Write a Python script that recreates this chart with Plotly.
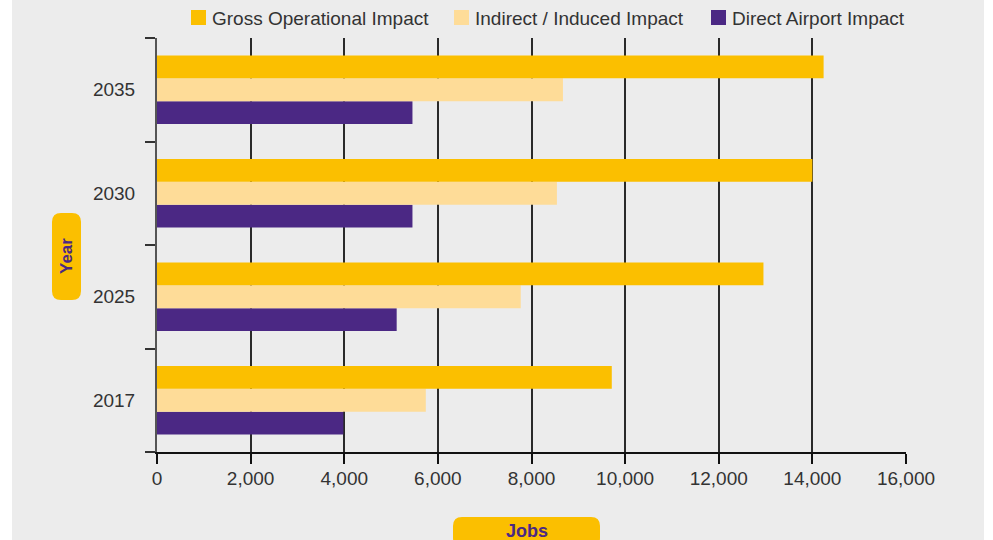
import plotly.graph_objects as go

# ---- data -------------------------------------------------------------
years = ["2017", "2025", "2030", "2035"]
gross_operational = [9715, 12955, 14000, 14240]
indirect_induced = [5742, 7770, 8543, 8672]
direct_airport = [3980, 5120, 5457, 5457]

series_names = ["Gross Operational Impact", "Indirect / Induced Impact", "Direct Airport Impact"]
x_tick_values = [0, 2000, 4000, 6000, 8000, 10000, 12000, 14000, 16000]
x_tick_labels = ["0", "2,000", "4,000", "6,000", "8,000", "10,000", "12,000", "14,000", "16,000"]

# ---- styling ----------------------------------------------------------
GOLD = "#FBBF00"
LIGHT = "#FEDC98"
PURPLE = "#4B2884"
BG = "#ECECEC"
TEXT = "#333333"
FONT = "Liberation Sans, Arial, Helvetica, sans-serif"

W, H = 993, 540
ML, MR, MT, MB = 157, 87, 38, 88
PW, PH = W - ML - MR, H - MT - MB


def px_x(p):
    return (p - ML) / PW


def px_y(p):
    return (H - MB - p) / PH


fig = go.Figure()

# grouped horizontal bars: first trace sits lowest in each group
for name, vals, col in [
    (series_names[2], direct_airport, PURPLE),
    (series_names[1], indirect_induced, LIGHT),
    (series_names[0], gross_operational, GOLD),
]:
    fig.add_trace(go.Bar(
        y=years, x=vals, name=name, orientation="h",
        marker=dict(color=col, line=dict(width=0)),
        showlegend=False,
    ))


def pill(cx, cy, w, h, r):
    x0, x1 = -w / 2, w / 2
    y0, y1 = -h / 2, h / 2
    path = (f"M{x0 + r},{y0} L{x1 - r},{y0} Q{x1},{y0} {x1},{y0 + r} "
            f"L{x1},{y1 - r} Q{x1},{y1} {x1 - r},{y1} L{x0 + r},{y1} "
            f"Q{x0},{y1} {x0},{y1 - r} L{x0},{y0 + r} Q{x0},{y0} {x0 + r},{y0} Z")
    return dict(type="path", xref="paper", yref="paper",
                xsizemode="pixel", ysizemode="pixel",
                xanchor=px_x(cx), yanchor=px_y(cy), path=path,
                fillcolor=GOLD, line=dict(width=0), layer="above")


shapes = [
    # grey panel behind everything
    dict(type="rect", xref="paper", yref="paper",
         x0=px_x(12), x1=px_x(984), y0=px_y(H + 2), y1=px_y(-2),
         fillcolor=BG, line=dict(width=0), layer="below"),
    pill(66.5, 256.5, 29, 87, 9),
    pill(526.5, 532, 147, 30, 9),
]

annotations = [
    dict(text="<b>Year</b>", x=px_x(66.5), y=px_y(256.5), xref="paper", yref="paper",
         textangle=-90, showarrow=False, xanchor="center", yanchor="middle",
         font=dict(family=FONT, size=17, color=PURPLE)),
    dict(text="<b>Jobs</b>", x=px_x(526.5), y=px_y(531), xref="paper", yref="paper",
         showarrow=False, xanchor="center", yanchor="middle",
         font=dict(family=FONT, size=18, color=PURPLE)),
]

# legend row along the top
legend_items = [
    (series_names[0], GOLD, 191),
    (series_names[1], LIGHT, 454),
    (series_names[2], PURPLE, 711),
]
for name, col, sx in legend_items:
    shapes.append(dict(type="rect", xref="paper", yref="paper",
                       x0=px_x(sx), x1=px_x(sx + 15), y0=px_y(25), y1=px_y(10),
                       fillcolor=col, line=dict(width=0), layer="above"))
    annotations.append(dict(text=name, x=px_x(sx + 19), y=px_y(18), xref="paper", yref="paper",
                            showarrow=False, xanchor="left", yanchor="middle",
                            font=dict(family=FONT, size=19, color=TEXT)))

fig.update_layout(
    width=W, height=H, autosize=False,
    margin=dict(l=ML, r=MR, t=MT, b=MB, pad=0),
    paper_bgcolor="white", plot_bgcolor=BG,
    barmode="group", bargap=0.34, bargroupgap=0,
    font=dict(family=FONT, size=19, color=TEXT),
    shapes=shapes, annotations=annotations,
    showlegend=False,
    xaxis=dict(
        range=[0, 16000], tickvals=x_tick_values, ticktext=x_tick_labels,
        showgrid=True, gridcolor="#2a2a2a", gridwidth=1.6,
        showline=True, linecolor="#111111", linewidth=1.6,
        ticks="outside", ticklen=10, tickwidth=1.6, tickcolor="#111111",
        zeroline=False, fixedrange=True, ticklabelstandoff=-2,
        tickfont=dict(family=FONT, size=19, color=TEXT),
    ),
    yaxis=dict(
        type="category", categoryorder="array", categoryarray=years,
        showgrid=False, zeroline=False,
        showline=True, linecolor="#555555", linewidth=2,
        ticks="outside", tickson="boundaries", ticklen=10, tickwidth=1.6, tickcolor="#333333",
        ticklabelstandoff=16, fixedrange=True,
        tickfont=dict(family=FONT, size=19, color=TEXT),
    ),
)

fig.write_html("out.html")
